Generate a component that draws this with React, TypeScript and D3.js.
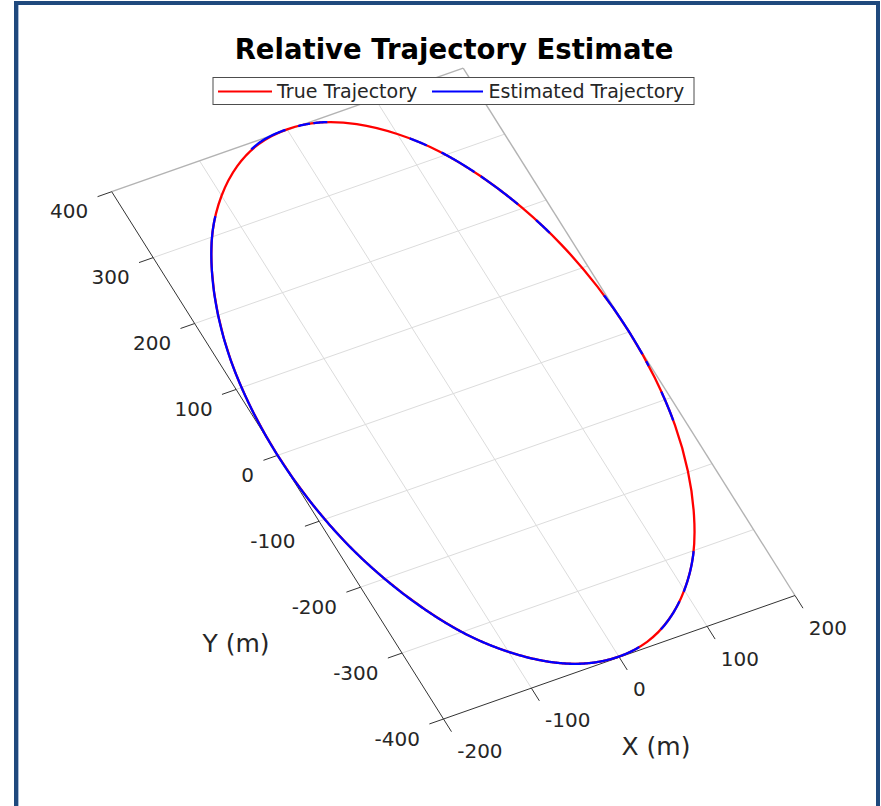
import React, { useMemo } from "react";
import * as d3 from "d3";

// Orbital phase (deg) of each sample of the relative trajectory
const phaseDeg = [0, 10, 20, 30, 40, 50, 60, 70, 80, 90, 100, 110, 120, 130, 140, 150, 160, 170,
  180, 190, 200, 210, 220, 230, 240, 250, 260, 270, 280, 290, 300, 310, 320, 330, 340, 350];

// True relative position (m)
const trueX = [200, 197, 188, 173, 153, 129, 100, 68, 35, 0, -35, -68, -100, -129, -153, -173, -188, -197,
  -200, -197, -188, -173, -153, -129, -100, -68, -35, 0, 35, 68, 100, 129, 153, 173, 188, 197];
const trueY = [1, 70, 138, 201, 258, 307, 347, 377, 395, 401, 395, 377, 347, 307, 258, 201, 138, 70,
  1, -68, -136, -199, -256, -305, -345, -375, -393, -399, -393, -375, -345, -305, -256, -199, -136, -68];

// Estimated relative position (m)
const estX = [200, 197, 188, 173, 153, 129, 100, 68, 35, 0, -35, -68, -100, -129, -153, -173, -188, -197,
  -200, -197, -188, -173, -153, -129, -100, -68, -35, 0, 35, 68, 100, 129, 153, 173, 188, 197];
const estY = [1, 70, 138, 201, 258, 307, 347, 377, 395, 401, 396, 377, 347, 307, 258, 201, 138, 70,
  1, -68, -136, -199, -256, -305, -345, -375, -393, -399, -393, -375, -345, -305, -256, -199, -136, -68];

// Phase intervals (deg) where the true track lies in front of the estimate
const trueInFrontArcs: [number, number][] = [
  [8, 23], [26.5, 31], [40, 41.5], [49.5, 53], [57, 78], [82, 83], [86.5, 90.5], [103, 126],
  [277, 286], [296.5, 299.5], [311, 341], [347, 352.5], [353.5, 355],
];

const xTicks = [-200, -100, 0, 100, 200];
const yTicks = [-400, -300, -200, -100, 0, 100, 200, 300, 400];

const W = 881;
const H = 806;
const FONT = "'DejaVu Sans', 'Liberation Sans', sans-serif";

// Oblique view of the x-y plane: screen corner of (xmin, ymin) and edge vectors
const corner: [number, number] = [443.5, 719];
const xEdge: [number, number] = [351.5, -123.5];
const yEdge: [number, number] = [-331.8, -527.3];

const xScale = d3.scaleLinear().domain([-200, 200]).range([0, 1]);
const yScale = d3.scaleLinear().domain([-400, 400]).range([0, 1]);

function proj(x: number, y: number): [number, number] {
  const u = xScale(x);
  const v = yScale(y);
  return [corner[0] + u * xEdge[0] + v * yEdge[0], corner[1] + u * xEdge[1] + v * yEdge[1]];
}

// Uniform Catmull-Rom through the periodic samples, evaluated at a phase (deg)
function trackAt(xs: number[], ys: number[], phase: number): [number, number] {
  const n = xs.length;
  const step = 360 / n;
  const s = (((phase % 360) + 360) % 360) / step;
  const i = Math.floor(s);
  const u = s - i;
  const id = (k: number) => ((k % n) + n) % n;
  const cr = (arr: number[]) => {
    const p0 = arr[id(i - 1)], p1 = arr[id(i)], p2 = arr[id(i + 1)], p3 = arr[id(i + 2)];
    return 0.5 * (2 * p1 + (-p0 + p2) * u + (2 * p0 - 5 * p1 + 4 * p2 - p3) * u * u +
      (-p0 + 3 * p1 - 3 * p2 + p3) * u * u * u);
  };
  return [cr(xs), cr(ys)];
}

// Phase intervals where the estimate is in front: the complement of trueInFrontArcs
function complementArcs(arcs: [number, number][]): [number, number][] {
  const sorted = [...arcs].sort((p, q) => p[0] - q[0]);
  const out: [number, number][] = [];
  for (let k = 0; k < sorted.length; k++) {
    const end = sorted[k][1];
    const next = k + 1 < sorted.length ? sorted[k + 1][0] : sorted[0][0] + 360;
    if (next > end) out.push([end, next]);
  }
  return out;
}

export default function App() {
  const paths = useMemo(() => {
    const closedLine = d3.line<[number, number]>().curve(d3.curveCatmullRomClosed.alpha(0));
    const openLine = d3.line<[number, number]>();
    const arcPath = (xs: number[], ys: number[], a: number, b: number) => {
      const pts: [number, number][] = [];
      for (let t = a; t < b; t += 0.25) {
        const [x, y] = trackAt(xs, ys, t);
        pts.push(proj(x, y));
      }
      const [xe, ye] = trackAt(xs, ys, b);
      pts.push(proj(xe, ye));
      return openLine(pts) || "";
    };
    return {
      trueFull: closedLine(phaseDeg.map((_, i) => proj(trueX[i], trueY[i]))) || "",
      estFront: complementArcs(trueInFrontArcs).map(([a, b]) => arcPath(estX, estY, a, b)),
    };
  }, []);

  const xLen = Math.hypot(xEdge[0], xEdge[1]);
  const yLen = Math.hypot(yEdge[0], yEdge[1]);
  const tickLen = 15;
  // tick directions point away from the plot box
  const yTickDir: [number, number] = [(-xEdge[0] / xLen) * tickLen, (-xEdge[1] / xLen) * tickLen];
  const xTickDir: [number, number] = [(-yEdge[0] / yLen) * tickLen, (-yEdge[1] / yLen) * tickLen];

  const gridColor = "#dcdcdc";
  const axisColor = "#333333";
  const textColor = "#262626";
  const lineW = 2.3;

  const seg = (a: [number, number], b: [number, number]) => `M${a[0]},${a[1]}L${b[0]},${b[1]}`;

  return (
    <svg
      width={W}
      height={H}
      viewBox={`0 0 ${W} ${H}`}
      style={{ position: "absolute", left: 0, top: 0, background: "#fff" }}
    >
      <rect x={0} y={0} width={W} height={H} fill="#fff" />

      {/* grid on the x-y plane */}
      <g stroke={gridColor} strokeWidth={1} fill="none">
        {xTicks.slice(1, -1).map((x) => (
          <path key={`gx${x}`} d={seg(proj(x, -400), proj(x, 400))} />
        ))}
        {yTicks.slice(1, -1).map((y) => (
          <path key={`gy${y}`} d={seg(proj(-200, y), proj(200, y))} />
        ))}
      </g>

      {/* far edges of the box */}
      <g stroke="#b3b3b3" strokeWidth={1.4} fill="none">
        <path d={seg(proj(-200, 400), proj(200, 400))} />
        <path d={seg(proj(200, 400), proj(200, -400))} />
      </g>

      {/* axes */}
      <g stroke={axisColor} strokeWidth={1} fill="none">
        <path d={seg(proj(-200, -400), proj(-200, 400))} />
        <path d={seg(proj(-200, -400), proj(200, -400))} />
        {yTicks.map((y) => {
          const p = proj(-200, y);
          return <path key={`ty${y}`} d={seg(p, [p[0] + yTickDir[0], p[1] + yTickDir[1]])} />;
        })}
        {xTicks.map((x) => {
          const p = proj(x, -400);
          return <path key={`tx${x}`} d={seg(p, [p[0] + xTickDir[0], p[1] + xTickDir[1]])} />;
        })}
      </g>

      <g fontFamily={FONT} fontSize={20} fill={textColor}>
        {yTicks.map((y) => {
          const p = proj(-200, y);
          return (
            <text key={`ly${y}`} x={p[0] - 23.5} y={p[1] + 19.5} dy="0.36em" textAnchor="end">
              {y}
            </text>
          );
        })}
        {xTicks.map((x) => {
          const p = proj(x, -400);
          return (
            <text key={`lx${x}`} x={p[0] + 13.7} y={p[1] + 32} dy="0.36em" textAnchor="start">
              {x}
            </text>
          );
        })}
      </g>

      <g fontFamily={FONT} fontSize={25} fill={textColor} textAnchor="middle">
        <text x={236} y={643} dy="0.36em">Y (m)</text>
        <text x={656} y={746} dy="0.36em">X (m)</text>
      </g>

      {/* trajectories: the true track, with the estimate drawn where it lies in front */}
      <path d={paths.trueFull} fill="none" stroke="#ff0000" strokeWidth={lineW} />
      {paths.estFront.map((d, i) => (
        <path key={`e${i}`} d={d} fill="none" stroke="#0000ff" strokeWidth={lineW} strokeLinecap="butt" />
      ))}

      {/* title */}
      <text
        x={454}
        y={59}
        textAnchor="middle"
        fontFamily={FONT}
        fontWeight="bold"
        fontSize={27.5}
        fill="#000"
      >
        Relative Trajectory Estimate
      </text>

      {/* legend */}
      <g fontFamily={FONT} fontSize={19} fill={textColor}>
        <rect x={213} y={77.5} width={481} height={27} fill="#fff" stroke="#4d4d4d" strokeWidth={1} />
        <line x1={218} x2={272} y1={91.5} y2={91.5} stroke="#ff0000" strokeWidth={2} />
        <text x={277} y={91.5} dy="0.36em">True Trajectory</text>
        <line x1={432} x2={483} y1={91.5} y2={91.5} stroke="#0000ff" strokeWidth={2} />
        <text x={488.5} y={91.5} dy="0.36em">Estimated Trajectory</text>
      </g>

      {/* frame */}
      <rect x={16} y={3} width={862} height={H + 20} fill="none" stroke="#1f497d" strokeWidth={4} />
      <line x1={18.5} x2={18.5} y1={5} y2={H} stroke="#a9bcd6" strokeWidth={1} />
    </svg>
  );
}
